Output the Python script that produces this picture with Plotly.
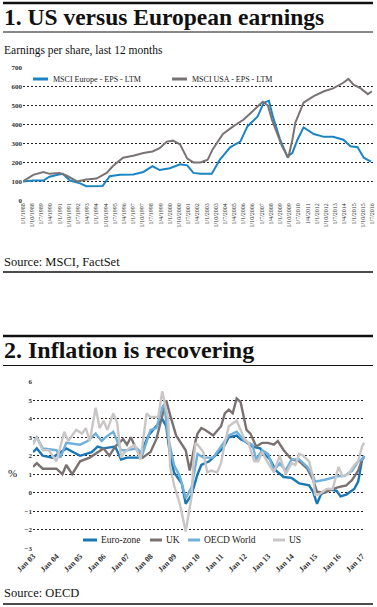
import plotly.graph_objects as go

# ---------------- Chart 1 data ----------------
eu_dates = ["1988-01","1988-11","1989-09","1990-03","1990-11","1991-01","1991-04","1991-11","1992-09","1993-03",
            "1994-01","1994-07","1995-02","1995-12","1997-01","1997-11","1998-08","1999-03","2000-01","2000-11",
            "2001-06","2001-12","2002-07","2003-06","2004-02","2004-12","2005-10","2006-05","2007-03","2007-09",
            "2008-02","2008-06","2009-01","2009-08","2010-01","2010-06","2010-12","2011-10","2012-08","2013-05",
            "2014-03","2014-10","2015-05","2015-11","2016-06"]
eu_values = [100,105,105,125,135,137,140,105,90,75,
             75,76,128,135,137,150,180,160,170,190,
             185,145,140,140,215,280,310,390,442,515,
             525,440,320,232,250,320,385,350,335,335,
             320,285,280,225,205]

us_dates = ["1988-01","1988-11","1989-09","1990-03","1991-01","1991-08","1992-06","1993-03","1994-01","1994-11",
            "1995-05","1996-03","1997-01","1997-11","1998-08","1999-03","1999-10","2000-04","2000-11","2001-06",
            "2001-12","2002-07","2003-02","2003-07","2004-05","2005-03","2006-01","2006-08","2007-04","2007-08",
            "2008-01","2008-05","2008-10","2009-03","2009-09","2010-01","2010-04","2010-12","2011-10","2012-08",
            "2013-05","2014-03","2014-08","2015-01","2015-08","2016-03","2016-07"]
us_values = [100,135,150,140,145,130,100,110,115,145,
             180,225,235,250,258,275,310,315,295,220,
             200,200,215,270,350,390,425,460,505,520,
             500,425,355,285,225,320,410,515,550,575,
             590,620,640,610,590,560,575]

eps_tick_labels = ["1/1/1988","1/10/1988","1/7/1989","1/4/1990","1/1/1991","1/10/1991","1/7/1992","1/4/1993",
                   "1/1/1994","1/10/1994","1/7/1995","1/4/1996","1/1/1997","1/10/1997","1/7/1998","1/4/1999",
                   "1/1/2000","1/10/2000","1/7/2001","1/4/2002","1/1/2003","1/10/2003","1/7/2004","1/4/2005",
                   "1/1/2006","1/10/2006","1/7/2007","1/4/2008","1/1/2009","1/10/2009","1/7/2010","1/4/2011",
                   "1/1/2012","1/10/2012","1/7/2013","1/4/2014","1/1/2015","1/10/2015","1/7/2016"]
eps_y_ticks = [0, 100, 200, 300, 400, 500, 600, 700]

# ---------------- Chart 2 data ----------------
ez_dates = ["2003-01","2003-03","2003-06","2003-11","2004-06","2005-01","2005-07","2005-10","2006-01","2006-07",
            "2006-10","2007-01","2007-07","2007-12","2008-07","2008-09","2008-11","2009-01","2009-05","2009-07",
            "2009-10","2010-01","2010-03","2010-07","2010-11","2011-02","2011-05","2011-09","2011-11","2012-01",
            "2012-05","2012-09","2012-12","2013-02","2013-05","2013-09","2014-01","2014-05","2014-10","2014-12",
            "2015-02","2015-04","2015-08","2015-12","2016-02","2016-05","2016-09","2016-11","2017-01","2017-02"]
ez_values = [2.2,2.4,2.0,1.9,2.4,2.0,2.2,2.5,2.4,2.5,
             1.8,1.9,1.9,3.1,4.0,3.6,2.0,1.1,0.5,-0.6,
             -0.1,1.0,1.5,1.7,2.1,2.4,3.0,3.1,2.9,2.8,
             2.5,2.4,2.0,1.8,1.2,0.85,0.8,0.5,0.4,0.05,
             -0.6,-0.1,0.2,0.1,-0.2,-0.1,0.2,0.6,1.8,2.0]

uk_dates = ["2003-01","2003-03","2003-06","2004-01","2004-04","2004-06","2004-09","2005-01","2005-06","2006-01",
            "2006-04","2006-07","2006-11","2007-01","2007-03","2007-06","2007-09","2008-01","2008-04","2008-07",
            "2008-09","2008-11","2009-02","2009-07","2009-09","2009-12","2010-01","2010-03","2010-05","2010-09",
            "2011-01","2011-03","2011-05","2011-07","2011-09","2011-11","2012-02","2012-04","2012-07","2012-10",
            "2013-01","2013-04","2013-06","2013-09","2014-01","2014-05","2014-09","2014-12","2015-02","2015-06",
            "2015-10","2016-01","2016-05","2016-08","2016-11","2017-01","2017-02"]
uk_values = [1.4,1.6,1.3,1.3,1.0,1.5,1.0,1.7,1.9,2.4,
             2.0,2.5,2.9,2.6,3.0,2.3,1.9,2.2,2.9,4.2,
             5.0,4.2,3.1,2.3,1.2,2.8,3.2,3.5,3.4,3.1,
             3.6,4.3,4.5,4.3,5.1,4.9,3.4,3.2,2.5,2.7,
             2.7,2.6,2.8,2.3,1.8,1.7,1.3,0.7,0.05,0.0,
             0.2,0.3,0.4,0.7,1.2,1.8,1.9]

oecd_dates = ["2003-01","2003-03","2003-06","2004-01","2004-03","2004-06","2005-01","2005-05","2005-09","2005-12",
              "2006-02","2006-06","2006-10","2007-01","2007-06","2007-09","2008-01","2008-04","2008-07","2008-08",
              "2008-10","2009-01","2009-04","2009-07","2009-10","2009-12","2010-01","2010-04","2010-09","2011-01",
              "2011-05","2011-09","2012-01","2012-05","2012-07","2012-10","2013-01","2013-04","2013-07","2013-10",
              "2014-01","2014-05","2014-09","2014-12","2015-01","2015-06","2015-09","2016-01","2016-04","2016-08",
              "2016-11","2017-01","2017-02"]
oecd_values = [2.7,3.0,2.4,2.3,1.9,2.7,2.6,2.8,3.2,2.8,
               3.0,3.3,2.3,2.3,2.4,2.1,3.4,3.5,4.6,4.8,
               3.0,1.5,0.9,-0.3,0.3,1.6,2.1,1.9,1.9,2.5,
               3.1,3.3,2.8,2.6,1.8,2.3,2.1,1.2,1.6,1.2,
               1.8,1.8,1.4,0.9,0.6,0.7,0.8,0.9,0.9,1.2,
               1.7,1.8,2.0]

usi_dates = ["2003-01","2003-03","2003-06","2003-09","2004-01","2004-05","2004-07","2004-11","2005-02","2005-04",
             "2005-06","2005-09","2005-11","2006-01","2006-03","2006-06","2006-08","2006-10","2006-11","2007-02",
             "2007-05","2007-08","2007-11","2008-01","2008-05","2008-07","2008-10","2008-11","2009-01","2009-04",
             "2009-07","2009-10","2009-11","2009-12","2010-01","2010-04","2010-06","2010-08","2010-11","2011-01",
             "2011-03","2011-05","2011-09","2011-11","2012-01","2012-03","2012-06","2012-08","2012-10","2013-01",
             "2013-04","2013-07","2013-10","2014-01","2014-03","2014-05","2014-07","2014-10","2014-12","2015-01",
             "2015-03","2015-07","2015-10","2016-01","2016-03","2016-06","2016-09","2016-11","2017-01","2017-02"]
usi_values = [2.6,3.0,2.3,2.3,1.7,3.3,2.8,3.4,3.2,3.5,
              2.8,4.6,3.5,3.9,3.4,4.3,3.8,1.9,2.1,2.4,
              2.6,1.8,4.3,4.1,4.1,5.5,4.0,1.4,0.4,-0.6,
              -2.1,-0.2,1.8,2.7,2.6,2.2,1.1,1.2,1.1,1.6,
              2.7,3.6,3.9,3.4,2.9,2.7,1.7,1.7,2.2,1.6,
              1.1,2.0,1.0,1.6,1.5,2.1,2.0,1.7,0.8,-0.1,
              -0.1,0.2,0.2,1.4,0.9,1.0,1.5,1.7,2.5,2.7]

inf_tick_labels = ["Jan 03","Jan 04","Jan 05","Jan 06","Jan 07","Jan 08","Jan 09","Jan 10",
                   "Jan 11","Jan 12","Jan 13","Jan 14","Jan 15","Jan 16","Jan 17"]
inf_y_ticks = [-3, -2, -1, 0, 1, 2, 3, 4, 5, 6]

# ---------------- Layout helpers ----------------
W, H = 377, 607
def px(x):
    return x / W
def py(y):
    return 1 - y / H

SERIF = "Liberation Serif, Times New Roman, serif"
INK = "#1a1a1a"

eps_tickvals = []
for lab in eps_tick_labels:
    d, m, y = lab.split("/")
    eps_tickvals.append(f"{y}-{int(m):02d}-01")
inf_tickvals = [f"20{lab[-2:]}-01-01" for lab in inf_tick_labels]

series1 = [
    ("MSCI Europe - EPS - LTM", eu_dates, eu_values, "#1a84c4", 2.0),
    ("MSCI USA - EPS - LTM", us_dates, us_values, "#7a7373", 2.0),
]
series2 = [
    ("Euro-zone", ez_dates, ez_values, "#1877b4", 2.4),
    ("UK", uk_dates, uk_values, "#7a7171", 2.4),
    ("OECD World", oecd_dates, oecd_values, "#6fb0dc", 2.4),
    ("US", usi_dates, usi_values, "#cbc6c6", 2.4),
]

fig = go.Figure()
for name, xs, ys, col, w in series1:
    fig.add_trace(go.Scatter(x=xs, y=ys, name=name, mode="lines", line=dict(color=col, width=w),
                             xaxis="x", yaxis="y", showlegend=False))
for name, xs, ys, col, w in series2:
    fig.add_trace(go.Scatter(x=xs, y=ys, name=name, mode="lines", line=dict(color=col, width=w),
                             xaxis="x2", yaxis="y2", showlegend=False))

grid = dict(showgrid=True, gridcolor="#222222", gridwidth=1, griddash="2px,2px", zeroline=False,
            showline=False, ticks="", fixedrange=True, automargin=False)

fig.update_layout(
    width=W, height=H,
    margin=dict(l=0, r=0, t=0, b=0, autoexpand=False),
    paper_bgcolor="white", plot_bgcolor="white",
    font=dict(family=SERIF, color=INK),
    xaxis=dict(domain=[px(23), px(375)], type="date", range=["1988-01-01", "2016-10-01"],
               tickvals=eps_tickvals, ticktext=eps_tick_labels, tickangle=-90,
               tickfont=dict(size=6, family=SERIF, color="#333"), showgrid=False, zeroline=False,
               showline=False, ticks="", anchor="y", fixedrange=True, automargin=False),
    yaxis=dict(domain=[py(201), py(67)], range=[-3, 703], tickvals=eps_y_ticks,
               tickfont=dict(size=7, family=SERIF, color="#333", weight="bold"), anchor="x", **grid),
    xaxis2=dict(domain=[px(33), px(365)], type="date", range=["2003-01-01", "2017-02-15"],
                tickvals=inf_tickvals, ticktext=inf_tick_labels, tickangle=-45,
                tickfont=dict(size=8, family=SERIF, color="#333", weight="bold"), showgrid=False,
                zeroline=False, showline=False, ticks="", anchor="y2", fixedrange=True, automargin=False),
    yaxis2=dict(domain=[py(549), py(381)], range=[-3.05, 6.05], tickvals=inf_y_ticks,
                tickfont=dict(size=7, family=SERIF, color="#333", weight="bold"), anchor="x2", **grid),
    showlegend=False,
)

# rules
rules = [(3, 2.5), (32, 1), (272, 1.5), (336, 2.5), (365.5, 1), (604, 1.5)]
for yy, w in rules:
    fig.add_shape(type="line", xref="paper", yref="paper", x0=px(3), x1=px(373), y0=py(yy), y1=py(yy),
                  line=dict(color="#111", width=w))

def note(text, x, y, size, bold=False, anchor="left", color="#111", bg=None):
    fig.add_annotation(text=f"<b>{text}</b>" if bold else text, x=px(x), y=py(y), xref="paper", yref="paper",
                       xanchor=anchor, yanchor="middle", showarrow=False, bgcolor=bg,
                       font=dict(size=size, family=SERIF, color=color))

# legends (line sample + label)
legend1_pos = [(33, 48, 79), (172, 187, 79)]
for (name, _, _, col, _), (x0, x1, yy) in zip(series1, legend1_pos):
    fig.add_shape(type="line", xref="paper", yref="paper", x0=px(x0), x1=px(x1), y0=py(yy), y1=py(yy),
                  line=dict(color=col, width=3))
    note(name, x1 + 3, yy, 8, color="#222")

legend2_pos = [(83, 97, 540), (150, 162, 540), (188, 200, 540), (273, 285, 540)]
fig.add_shape(type="rect", xref="paper", yref="paper", x0=px(80), x1=px(302), y0=py(546), y1=py(534),
              fillcolor="white", line=dict(width=0))
for (name, _, _, col, _), (x0, x1, yy) in zip(series2, legend2_pos):
    fig.add_shape(type="line", xref="paper", yref="paper", x0=px(x0), x1=px(x1), y0=py(yy), y1=py(yy),
                  line=dict(color=col, width=3))
    note(name, x1 + 2, yy, 9.5, color="#222")

note("1. US versus European earnings", 2, 17, 23.5, bold=True)
note("Earnings per share, last 12 months", 2, 50, 11.5)
note("Source: MSCI, FactSet", 2, 262, 12.5)
note("2. Inflation is recovering", 2, 350, 24, bold=True)
note("%", 12, 473, 11, anchor="center")
note("Source: OECD", 2, 593, 12.5)

fig.write_html("out.html", config={"displayModeBar": False},
               post_script="document.body.style.margin='0';document.body.style.overflow='hidden';")
